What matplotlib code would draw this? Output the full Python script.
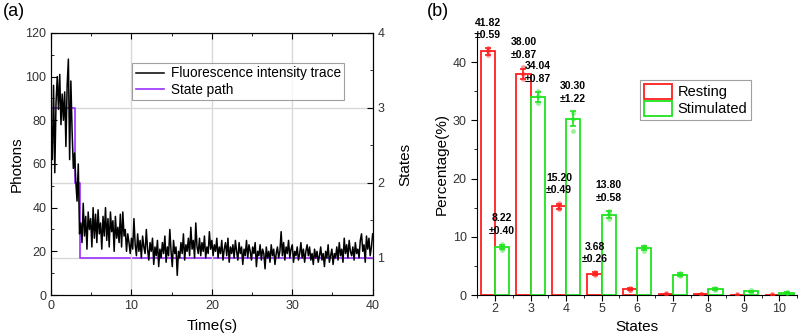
import matplotlib
matplotlib.use("Agg")
import matplotlib.pyplot as plt
import numpy as np
from matplotlib.patches import Patch

plt.rcParams['font.family'] = ['Liberation Sans', 'DejaVu Sans']

# ---------------- Panel (a) data ----------------
trace_t_end = 40.0
trace = [
    80, 62, 96, 56, 88, 100, 85, 101, 78, 92, 80, 93, 68, 96, 108, 62, 98, 75, 58, 65, 52,
    43, 60, 28, 33,
    24, 42, 27, 36, 21, 38, 30, 35, 22, 40, 26, 37, 24, 39, 28, 33, 21, 36, 27, 40,
    25, 35, 22, 38, 29, 34, 20, 36, 26, 31, 24, 37, 22, 38, 27, 30, 20, 28,
    24, 19, 26, 21, 35, 23, 18, 28, 20, 25, 17, 27, 22, 19, 30, 21, 16, 24, 20, 26,
    14, 22, 18, 25, 13, 21, 17, 24, 19, 27, 15, 22, 18, 30, 20, 13, 25, 19, 22, 9,
    20, 17, 24, 19, 28, 16, 23, 20, 26, 18, 31, 21, 25, 17, 33, 22, 19, 26, 18, 24,
    20, 27, 17, 22, 19, 29, 21, 25,
    18, 23, 20, 26, 17, 22, 19, 25, 16, 21, 24, 18, 26, 15, 22, 19, 23, 17, 25, 20,
    16, 24, 19, 22, 14, 21, 18, 25, 17, 23, 20, 16, 22, 19, 24, 13, 20, 18, 23, 16,
    21, 19, 12, 22, 17, 20, 15, 23, 18, 21, 14, 19, 22, 17, 20, 29, 18, 24, 16, 22,
    19, 25, 17, 21, 23, 15, 20, 18, 22, 16, 19, 24, 17, 21, 15, 20, 23, 18, 22, 16,
    19, 14, 21, 17, 20, 15, 18, 22, 16, 19, 13, 20, 17, 23, 15, 18, 21, 14, 19, 17,
    22, 16, 24, 18, 21, 15, 26, 19, 23, 17, 25, 20, 18, 22, 16, 24, 19, 21, 17, 25,
    28, 20, 23, 15, 27, 21, 26, 18, 22, 28,
]
state_t = [0.0, 3.0, 3.0, 3.6, 3.6, 40.0]
state_v = [3, 3, 2, 2, 1, 1]

# ---------------- Panel (b) data ----------------
states = [2, 3, 4, 5, 6, 7, 8, 9, 10]
resting = [41.82, 38.00, 15.20, 3.68, 1.00, 0.20, 0.10, 0.05, 0.05]
resting_err = [0.59, 0.87, 0.49, 0.26, 0.15, 0.05, 0.03, 0.02, 0.02]
stim = [8.22, 34.04, 30.30, 13.80, 8.00, 3.50, 1.00, 0.65, 0.40]
stim_err = [0.40, 0.87, 1.22, 0.58, 0.35, 0.25, 0.15, 0.10, 0.08]
resting_pts = [[41.2, 42.4, 41.9], [37.1, 39.1, 38.0], [14.8, 15.8, 15.0], [3.5, 3.9, 3.6],
               [0.9, 1.2, 0.9], [0.2, 0.3, 0.1], [0.1, 0.15, 0.05], [0.05, 0.1, 0.0], [0.05, 0.1, 0.0]]
stim_pts = [[7.8, 8.8, 8.1], [33.0, 35.0, 34.1], [28.2, 31.3, 30.2], [13.0, 14.5, 13.9],
            [7.6, 8.4, 8.0], [3.2, 3.8, 3.5], [0.9, 1.2, 1.0], [0.6, 0.8, 0.6], [0.35, 0.5, 0.4]]
labels_states = [2, 3, 4, 5]

RED = '#ff1f1f'
GREEN = '#1fe31f'
PURPLE = '#9b30ff'
TICKC = '#333333'

fig = plt.figure(figsize=(7.98, 3.36), dpi=100)

# ---------- Panel (a) ----------
ax = fig.add_axes([0.064, 0.122, 0.403, 0.780])
t = np.linspace(0, trace_t_end, len(trace))
ln1, = ax.plot(t, trace, color='black', lw=1.1, label='Fluorescence intensity trace')
ax.set_xlim(0, 40)
ax.set_ylim(0, 120)
ax.set_xticks([0, 10, 20, 30, 40])
ax.set_xticks([5, 15, 25, 35], minor=True)
ax.set_yticks([0, 20, 40, 60, 80, 100, 120])
ax.set_yticks(np.arange(10, 120, 20), minor=True)
ax.grid(axis='x', which='major', color='#d8d8d8', lw=1.0)
ax.tick_params(which='both', direction='in', top=True, right=False, labelsize=9,
               color='black', labelcolor=TICKC)
ax.tick_params(which='major', length=4)
ax.tick_params(which='minor', length=2.5)
ax.set_xlabel('Time(s)', fontsize=11, labelpad=5)
ax.set_ylabel('Photons', fontsize=11, labelpad=1)

ax2 = ax.twinx()
ax2.set_ylim(0.5, 4)
ax2.set_yticks([1, 2, 3, 4])
ax2.set_yticks([1.5, 2.5, 3.5], minor=True)
ax2.grid(axis='y', which='major', color='#d8d8d8', lw=1.0)
ax2.set_axisbelow(True)
ln2, = ax2.plot(state_t, state_v, color=PURPLE, lw=1.2, label='State path')
ax2.tick_params(which='both', direction='in', labelsize=9, labelcolor=TICKC)
ax2.tick_params(which='major', length=4)
ax2.tick_params(which='minor', length=2.5)
ax2.set_ylabel('States', fontsize=11, labelpad=10)
ax.set_zorder(ax2.get_zorder() + 1)
ax.patch.set_visible(False)
leg = ax.legend([ln1, ln2], ['Fluorescence intensity trace', 'State path'],
                loc='upper left', bbox_to_anchor=(0.252, 0.885), fontsize=9.8,
                frameon=True, fancybox=False, edgecolor='#888888', borderpad=0.25,
                handlelength=2.1, labelspacing=0.15, borderaxespad=0, handletextpad=0.5)
leg.get_frame().set_linewidth(0.8)

# ---------- Panel (b) ----------
bx = fig.add_axes([0.598, 0.122, 0.401, 0.780])
x = np.array(states, dtype=float)
w = 0.4
bx.bar(x - w / 2, resting, width=w, facecolor='white', edgecolor=RED, lw=1.3)
bx.bar(x + w / 2, stim, width=w, facecolor='white', edgecolor=GREEN, lw=1.3)
bx.errorbar(x - w / 2, resting, yerr=resting_err, fmt='none', ecolor=RED, elinewidth=1.2,
            capsize=2.5, capthick=1.2)
bx.errorbar(x + w / 2, stim, yerr=stim_err, fmt='none', ecolor=GREEN, elinewidth=1.2,
            capsize=2.5, capthick=1.2)
for i in range(len(states)):
    bx.scatter([x[i] - w / 2] * len(resting_pts[i]), resting_pts[i], s=12, color=RED,
               alpha=0.45, lw=0, zorder=3)
    bx.scatter([x[i] + w / 2] * len(stim_pts[i]), stim_pts[i], s=12, color=GREEN,
               alpha=0.45, lw=0, zorder=3)
for i, s in enumerate(states):
    if s in labels_states:
        top_r = max(resting[i] + resting_err[i], max(resting_pts[i]))
        bx.text(x[i] - w / 2, top_r + 1.3, f"{resting[i]:.2f}\n±{resting_err[i]:.2f}",
                ha='center', va='bottom', fontsize=7.5, fontweight='bold', linespacing=1.35)
        top_g = max(stim[i] + stim_err[i], max(stim_pts[i]))
        bx.text(x[i] + w / 2, top_g + 1.3, f"{stim[i]:.2f}\n±{stim_err[i]:.2f}",
                ha='center', va='bottom', fontsize=7.5, fontweight='bold', linespacing=1.35)
bx.set_xlim(1.55, 10.5)
bx.set_ylim(0, 45)
bx.set_xticks(states)
bx.set_xticks(np.arange(1.5, 10.6, 1.0), minor=True)
bx.set_yticks([0, 10, 20, 30, 40])
bx.set_yticks([5, 15, 25, 35, 45], minor=True)
bx.spines['top'].set_visible(False)
bx.spines['right'].set_visible(False)
bx.tick_params(which='both', direction='out', labelsize=9, labelcolor=TICKC)
bx.tick_params(which='major', length=4)
bx.tick_params(which='minor', length=2.5)
bx.tick_params(axis='x', pad=2)
bx.set_xlabel('States', fontsize=11, labelpad=3)
bx.set_ylabel('Percentage(%)', fontsize=11, labelpad=3)
handles = [Patch(facecolor='white', edgecolor=RED, lw=1.3), Patch(facecolor='white', edgecolor=GREEN, lw=1.3)]
lg2 = bx.legend(handles, ['Resting', 'Stimulated'], loc='upper left', bbox_to_anchor=(0.51, 0.82),
                fontsize=10.5, frameon=True, fancybox=False, edgecolor='#888888', borderpad=0.25,
                handlelength=1.9, handleheight=1.2, labelspacing=0.1, borderaxespad=0, handletextpad=0.4)
lg2.get_frame().set_linewidth(0.8)

fig.text(0.003, 0.965, '(a)', fontsize=13, va='center', ha='left')
fig.text(0.535, 0.965, '(b)', fontsize=13, va='center', ha='left')

fig.savefig('out.png', dpi=100)
